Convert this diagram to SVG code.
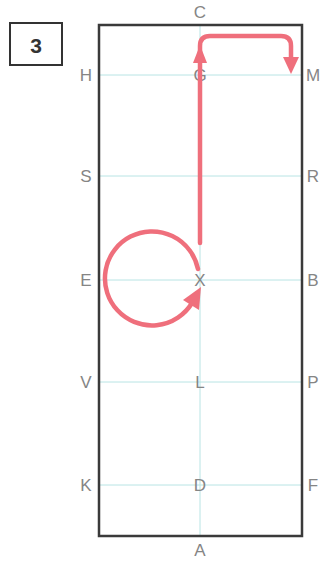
<svg xmlns="http://www.w3.org/2000/svg" width="322" height="562" viewBox="0 0 322 562">
<style>
.grid{stroke:#b8e4e4;stroke-width:1;fill:none}
.frame{stroke:#3a3a3a;stroke-width:2.5;fill:none}
.lbl{font-family:"Liberation Sans",Arial,sans-serif;font-size:17px;fill:#858585;text-anchor:middle;dominant-baseline:central}
.path{stroke:#ef6f7c;stroke-width:4.5;fill:none;stroke-linecap:round;stroke-linejoin:round}
.head{fill:#ef6f7c}
</style>
<rect width="322" height="562" fill="#ffffff"/>
<g id="grid">
<line class="grid" x1="99" y1="75" x2="302" y2="75"/>
<line class="grid" x1="99" y1="176" x2="302" y2="176"/>
<line class="grid" x1="99" y1="280" x2="302" y2="280"/>
<line class="grid" x1="99" y1="382" x2="302" y2="382"/>
<line class="grid" x1="99" y1="485" x2="302" y2="485"/>
<line class="grid" x1="200" y1="25" x2="200" y2="536"/>
</g>
<g id="arena"><rect class="frame" x="99" y="25" width="203" height="511"/></g>
<g id="badge">
<rect x="10" y="23" width="52" height="42" fill="#fff" stroke="#333" stroke-width="2"/>
<text x="36" y="45" font-family="Liberation Sans,Arial,sans-serif" font-size="21" font-weight="bold" fill="#333" text-anchor="middle" dominant-baseline="central">3</text>
</g>
<g id="labels">
<text class="lbl" x="200" y="12">C</text>
<text class="lbl" x="200" y="550">A</text>
<text class="lbl" x="86" y="75">H</text>
<text class="lbl" x="200" y="75">G</text>
<text class="lbl" x="313" y="75">M</text>
<text class="lbl" x="86" y="176">S</text>
<text class="lbl" x="200" y="176">I</text>
<text class="lbl" x="313" y="176">R</text>
<text class="lbl" x="86" y="280">E</text>
<text class="lbl" x="200" y="280">X</text>
<text class="lbl" x="313" y="280">B</text>
<text class="lbl" x="86" y="382">V</text>
<text class="lbl" x="200" y="382">L</text>
<text class="lbl" x="313" y="382">P</text>
<text class="lbl" x="86" y="485">K</text>
<text class="lbl" x="200" y="485">D</text>
<text class="lbl" x="313" y="485">F</text>
</g>
<g id="connectors">
<path class="path" d="M198,269 A47,47 0 1 0 192,303"/>
<polygon class="head" points="201,287 199,310 183,300"/>
<path class="path" d="M200,243 V46 Q200,36 210,36 H281 Q291,36 291,46 V60"/>
<polygon class="head" points="200,45 207,63 193,63"/>
<polygon class="head" points="291,74 283,57 299,57"/>
</g>
</svg>
